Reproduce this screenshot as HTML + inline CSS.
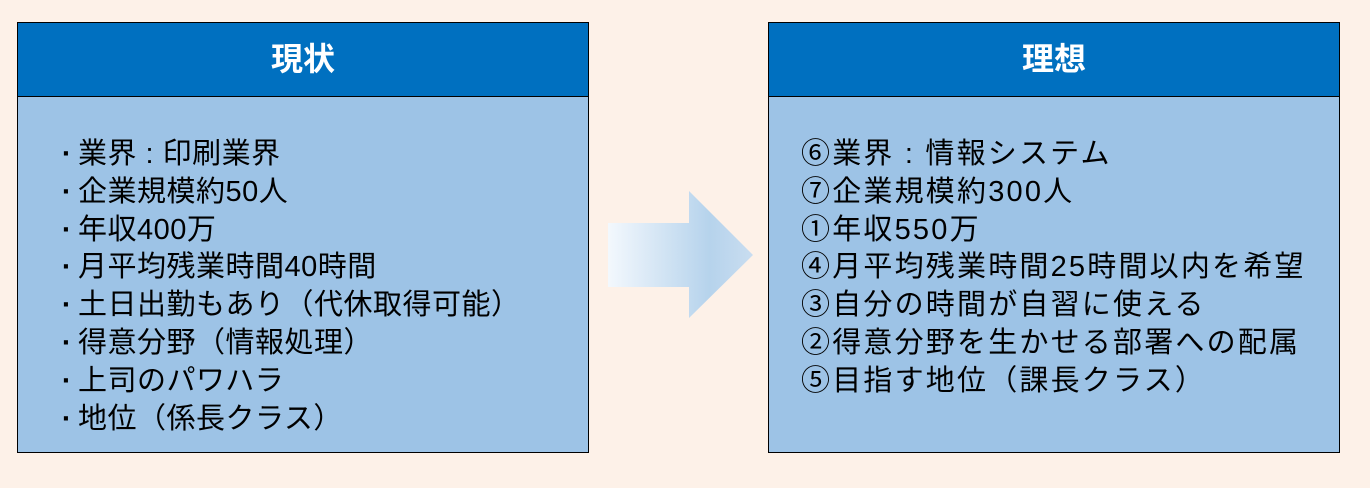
<!DOCTYPE html>
<html><head><meta charset="utf-8"><style>
body{margin:0;width:1370px;height:488px;background:#fdf1e8;position:relative;overflow:hidden;font-family:"Liberation Sans","Noto Sans CJK JP",sans-serif}
.box{position:absolute;top:22px;width:572px;height:431px;border:1.5px solid #000;background:#9dc3e6;box-sizing:border-box}
.hd{height:73px;background:#0070c0;border-bottom:1.5px solid #000;color:#fff;font-weight:bold;font-size:32px;text-align:center;line-height:72px}
.tx{position:absolute;top:113px;font-size:29px;line-height:37.8px;color:#000;white-space:nowrap}
.b{display:inline-block;width:22px;text-align:center;margin-left:-4px;font-weight:bold}
</style></head><body>
<div class="box" style="left:17px"><div class="hd">現状</div>
<div class="tx" style="left:42px;letter-spacing:0.5px"><span class="b">·</span>業界 : 印刷業界<br><span class="b">·</span>企業規模約50人<br><span class="b">·</span>年収400万<br><span class="b">·</span>月平均残業時間40時間<br><span class="b">·</span>土日出勤もあり（代休取得可能）<br><span class="b">·</span>得意分野（情報処理）<br><span class="b">·</span>上司のパワハラ<br><span class="b">·</span>地位（係長クラス）</div></div>
<div class="box" style="left:768px"><div class="hd">理想</div>
<div class="tx" style="left:32px;letter-spacing:2.2px">⑥業界 : 情報システム<br>⑦企業規模約300人<br>①年収550万<br>④月平均残業時間25時間以内を希望<br>③自分の時間が自習に使える<br>②得意分野を生かせる部署への配属<br>⑤目指す地位（課長クラス）</div></div>
<svg style="position:absolute;left:0;top:0" width="1370" height="488"><defs><linearGradient id="g" x1="0" x2="1"><stop offset="0" stop-color="#f3f8fd"/><stop offset="0.7" stop-color="#b6d3ec"/><stop offset="1" stop-color="#c9ddf0"/></linearGradient></defs>
<polygon points="608,223 689,223 689,191 753,255 689,318 689,287 608,287" fill="url(#g)"/></svg>
</body></html>
